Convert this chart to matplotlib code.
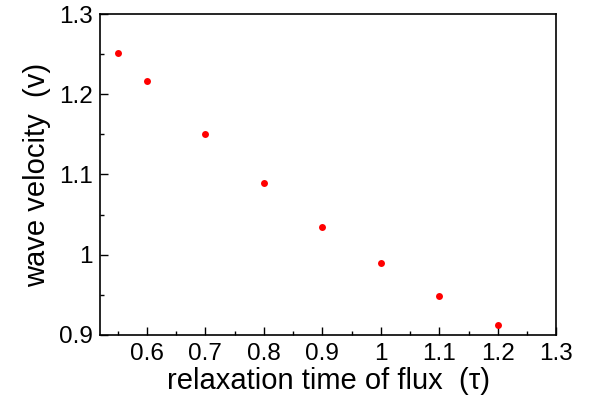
import numpy as np
from matplotlib import pyplot as plt
from matplotlib.ticker import MultipleLocator

# relaxation time of flux vs wave velocity
tau = [0.55, 0.6, 0.7, 0.8, 0.9, 1.0, 1.1, 1.2]
vel = [1.252, 1.217, 1.150, 1.089, 1.035, 0.990, 0.949, 0.912]
xticks = [0.6, 0.7, 0.8, 0.9, 1.0, 1.1, 1.2, 1.3]
xticklabels = ['0.6', '0.7', '0.8', '0.9', '1', '1.1', '1.2', '1.3']
yticks = [0.9, 1.0, 1.1, 1.2, 1.3]
yticklabels = ['0.9', '1', '1.1', '1.2', '1.3']

plt.rcParams['font.family'] = ['Liberation Sans', 'DejaVu Sans']

fig = plt.figure(figsize=(5.92, 4.03), dpi=100)
ax = fig.add_axes([0.169, 0.169, 0.771, 0.796])
ax.plot(tau, vel, 'o', color='red', ms=5, mec='none')

ax.set_xlim(0.52, 1.3)
ax.set_ylim(0.9, 1.3)
ax.set_xticks(xticks)
ax.set_xticklabels(xticklabels)
ax.set_yticks(yticks)
ax.set_yticklabels(yticklabels)
ax.xaxis.set_minor_locator(MultipleLocator(0.05))
ax.yaxis.set_minor_locator(MultipleLocator(0.05))
ax.tick_params(which='both', direction='in', labelsize=17.5, width=1)
ax.tick_params(which='major', length=6)
ax.tick_params(axis='x', which='major', pad=6)
ax.tick_params(axis='y', which='major', pad=5)
ax.tick_params(which='minor', length=3)
for s in ax.spines.values():
    s.set_linewidth(1.2)

ax.set_xlabel('relaxation time of flux  (\u03c4)', fontsize=21, labelpad=1)
ax.set_ylabel('wave velocity  (v)', fontsize=21, labelpad=6)

fig.savefig('out.png', dpi=100)
